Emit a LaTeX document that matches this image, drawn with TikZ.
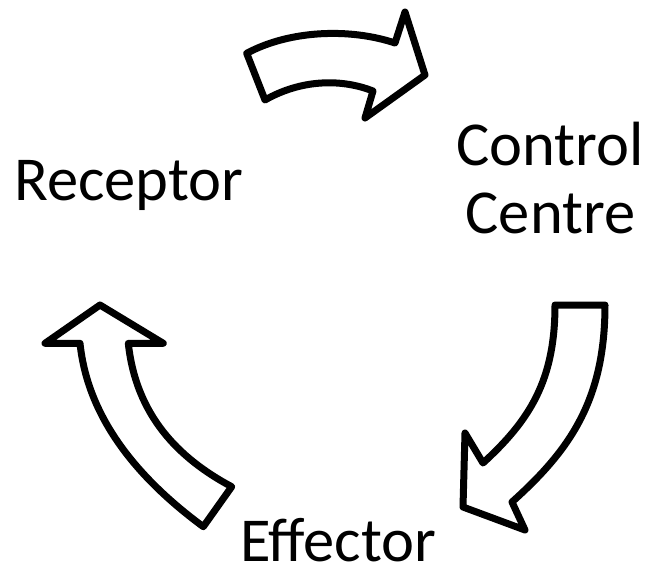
\documentclass[tikz,border=0pt]{standalone}
\usepackage{fontspec}
\setmainfont{Carlito}
\begin{document}
\begin{tikzpicture}[x=1pt,y=-1pt,
  cyclearrow/.style={draw=black,fill=white,line width=7pt,line join=round},
  label/.style={inner sep=0pt,font=\fontsize{62.5}{70}\selectfont}]
\useasboundingbox (0,0) rectangle (646,566);
% top arrow
\path[cyclearrow] (246.7,53.3) -- (265,100) .. controls (300,80) and (340,78) .. (373,91)
  -- (365,118) -- (425,75) -- (405,12) -- (395,43)
  .. controls (350,28) and (290,30) .. cycle;
% right arrow
\path[cyclearrow] (555,305) -- (605,305) .. controls (605,400) and (570,450) .. (512,502)
  -- (525,530) -- (463,507) -- (465,433) -- (483,463)
  .. controls (530,420) and (555,380) .. cycle;
% left arrow
\path[cyclearrow] (100,305) -- (163.3,343.3) -- (128.3,343.3)
  .. controls (136,415) and (178,458) .. (231.7,486.7) -- (203.3,526.7)
  .. controls (140,480) and (88,420) .. (80,343.3) -- (45,343.3) -- cycle;
\node[label,anchor=base west] (receptor) at (14,200) {Receptor};
\node[label,anchor=base] (control) at (550,165) {Control};
\node[label,anchor=base] (centre) at (550.5,233) {Centre};
\node[label,anchor=base west,text depth=0pt] (effector) at (240,561) {Effector};
\end{tikzpicture}
\end{document}
